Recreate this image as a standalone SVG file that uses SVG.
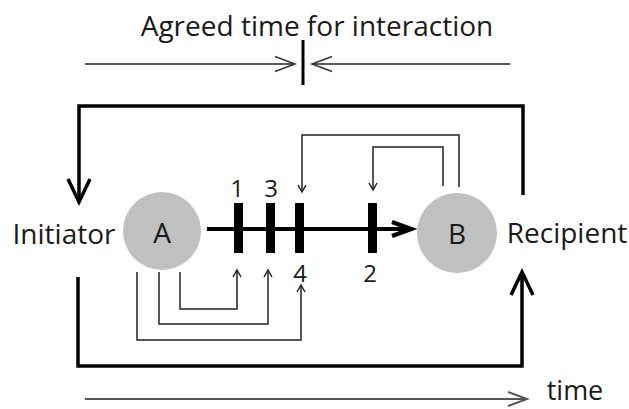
<svg xmlns="http://www.w3.org/2000/svg" width="629" height="409" viewBox="0 0 629 409">
<style>
text{font-family:"Open Sans","Noto Sans","DejaVu Sans",sans-serif;fill:#1a1a1a;text-anchor:middle}
.lbl{font-size:28px}
.num{font-size:24px}
.thick{fill:none;stroke:#000;stroke-width:3.5;stroke-linejoin:miter}
.thin{fill:none;stroke:#222;stroke-width:1.5}
.gray{fill:none;stroke:#555;stroke-width:2}
.bar{fill:#000}
.node{fill:#c0c0c0}
</style>
<defs>
<marker id="aThin" markerUnits="userSpaceOnUse" viewBox="-10 -6 12 12" refX="0" refY="0" markerWidth="12" markerHeight="12" orient="auto" overflow="visible">
<path d="M-7,-4 L0,0 L-7,4" fill="none" stroke="#222" stroke-width="1.5"/>
</marker>
<marker id="aBig" markerUnits="userSpaceOnUse" viewBox="-26 -13 28 26" refX="0" refY="0" markerWidth="28" markerHeight="26" orient="auto" overflow="visible">
<path d="M-23,-11 L0,0 L-23,11" fill="none" stroke="#000" stroke-width="3.5"/>
</marker>
<marker id="aMain" markerUnits="userSpaceOnUse" viewBox="-24 -10 26 20" refX="0" refY="0" markerWidth="26" markerHeight="20" orient="auto" overflow="visible">
<path d="M-21,-7 L-2,0 L-21,7" fill="none" stroke="#000" stroke-width="4.5"/>
</marker>
<marker id="aMid" markerUnits="userSpaceOnUse" viewBox="-22 -9 24 18" refX="0" refY="0" markerWidth="24" markerHeight="18" orient="auto" overflow="visible">
<path d="M-20,-7.5 L0,0 L-20,7.5" fill="none" stroke="#333" stroke-width="1.5"/>
</marker>
<marker id="aGray" markerUnits="userSpaceOnUse" viewBox="-22 -9 24 18" refX="0" refY="0" markerWidth="24" markerHeight="18" orient="auto" overflow="visible">
<path d="M-19,-7 L0,0 L-19,7" fill="none" stroke="#555" stroke-width="2"/>
</marker>
</defs>
<rect width="629" height="409" fill="#fff"/>

<g id="agreed">
<text class="lbl" x="317" y="36">Agreed time for interaction</text>
<line x1="303" y1="40" x2="303" y2="85" stroke="#000" stroke-width="3"/>
</g>

<g id="initiator-label"><text class="lbl" x="64" y="244">Initiator</text></g>
<g id="recipient-label"><text class="lbl" x="567" y="243">Recipient</text></g>
<g id="time-label"><text class="lbl" x="575" y="400" style="font-size:27px">time</text></g>

<g id="connectors">
<path class="thin" d="M85,64 H295" marker-end="url(#aMid)"/>
<path class="thin" d="M510,64 H312" marker-end="url(#aMid)"/>
<path class="thick" d="M523,195 V106 H79 V202" marker-end="url(#aBig)"/>
<path class="thick" d="M78,277 V366 H522 V272" marker-end="url(#aBig)"/>
<path d="M207,229 H413" fill="none" stroke="#000" stroke-width="4" marker-end="url(#aMain)"/>
<path class="thin" d="M459,187 V135 H302 V192" marker-end="url(#aThin)"/>
<path class="thin" d="M443,186 V147 H373 V190" marker-end="url(#aThin)"/>
<path class="thin" d="M180,272 V309 H237 V270" marker-end="url(#aThin)"/>
<path class="thin" d="M159,272 V324 H268 V270" marker-end="url(#aThin)"/>
<path class="thin" d="M137,272 V340 H301 V285" marker-end="url(#aThin)"/>
<path class="gray" d="M85,399 H527" marker-end="url(#aGray)"/>
</g>

<g id="nodeA">
<circle class="node" cx="162" cy="231" r="39"/>
<text class="lbl" x="162" y="243">A</text>
</g>
<g id="nodeB">
<circle class="node" cx="457" cy="233" r="40"/>
<text class="lbl" x="457" y="244">B</text>
</g>

<g id="bar1"><rect class="bar" x="234" y="203" width="9" height="50"/><text class="num" x="237" y="197">1</text></g>
<g id="bar3"><rect class="bar" x="266" y="203" width="9" height="50"/><text class="num" x="271" y="197">3</text></g>
<g id="bar4"><rect class="bar" x="295" y="203" width="9" height="50"/><text class="num" x="300" y="282">4</text></g>
<g id="bar2"><rect class="bar" x="368" y="203" width="9" height="50"/><text class="num" x="370" y="282">2</text></g>
</svg>
